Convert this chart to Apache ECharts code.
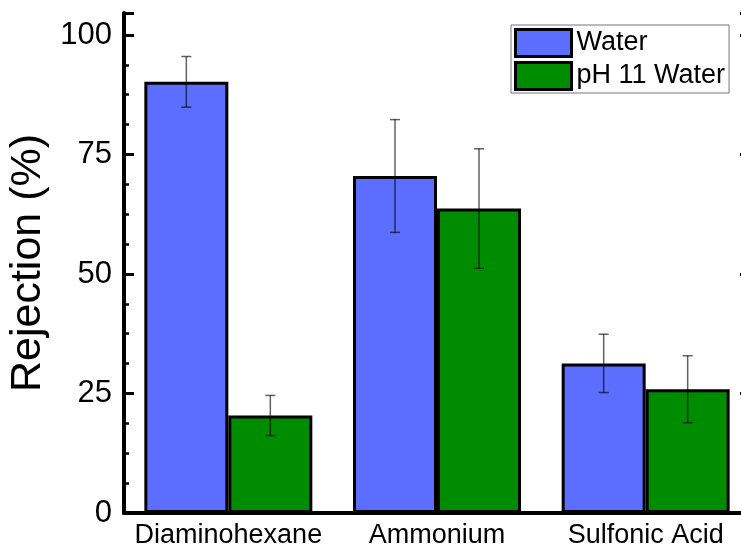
<!DOCTYPE html>
<html><head><meta charset="utf-8">
<script src="https://cdn.jsdelivr.net/npm/echarts@6/dist/echarts.min.js"></script>
<style>html,body{margin:0;padding:0;background:#fff}#c{width:741px;height:550px}</style>
</head><body><div id="c"></div>
<script>
const categories = ['Diaminohexane', 'Ammonium', 'Sulfonic Acid'];
const seriesNames = ['Water', 'pH 11 Water'];
const waterValues = [90.2, 70.5, 31.3];
const waterErrors = [5.3, 11.8, 6.1];
const ph11Values = [20.4, 63.7, 25.9];
const ph11Errors = [4.2, 12.5, 7.0];
const yTicks = [0, 25, 50, 75, 100];

const FONT = '"Liberation Sans", Arial, sans-serif';
const colors = ['#5B6EFF', '#008C00'];
const catGap = 0.195;

function errSeries(values, errs, idx) {
  return {
    type: 'custom', z: 10, silent: true,
    data: values.map((v, i) => [i, v - errs[i], v + errs[i]]),
    renderItem: function (params, api) {
      const band = api.size([1, 0])[0];
      const bw = band * (1 - catGap) / 2;
      const off = (idx === 0 ? -0.5 : 0.5) * bw;
      const lo = api.coord([api.value(0), api.value(1)]);
      const hi = api.coord([api.value(0), api.value(2)]);
      const x = lo[0] + off;
      const cw = 5;
      const st = { stroke: 'rgba(0,0,0,0.62)', lineWidth: 1.5 };
      return { type: 'group', children: [
        { type: 'line', shape: { x1: x, y1: hi[1], x2: x, y2: lo[1] }, style: st },
        { type: 'line', shape: { x1: x - cw, y1: hi[1], x2: x + cw, y2: hi[1] }, style: st },
        { type: 'line', shape: { x1: x - cw, y1: lo[1], x2: x + cw, y2: lo[1] }, style: st }
      ]};
    }
  };
}

const yMin = yTicks[0], yMax = 104.6, yInt = yTicks[1] - yTicks[0];

const chart = echarts.init(document.getElementById('c'), null, { renderer: 'canvas' });
chart.setOption({
  animation: false,
  textStyle: { fontFamily: FONT },
  grid: { left: 124, top: 13, width: 626, bottom: 37, containLabel: false, outerBoundsMode: 'none' },
  legend: {
    data: seriesNames,
    left: 511, top: 25,
    orient: 'vertical',
    icon: 'rect',
    itemWidth: 56, itemHeight: 27, itemGap: 3,
    padding: [3, 4, 2, 3],
    borderColor: '#777', borderWidth: 1,
    textStyle: { fontSize: 27, color: '#000', fontFamily: FONT, padding: [0, 0, 0, 0] },
    itemStyle: { borderColor: '#000', borderWidth: 3 }
  },
  xAxis: [{
    type: 'category', data: categories,
    axisLine: { lineStyle: { color: '#000', width: 4 } },
    axisTick: { show: false },
    axisLabel: { fontSize: 27, color: '#000', margin: 9, fontFamily: FONT, interval: 0, hideOverlap: false }
  }, {
    type: 'category', data: categories, position: 'top',
    axisLine: { lineStyle: { color: '#000', width: 3 } },
    axisTick: { show: false }, axisLabel: { show: false }
  }],
  yAxis: [{
    type: 'value', min: yMin, max: yMax, interval: yInt,
    name: 'Rejection (%)', nameLocation: 'middle', nameGap: 73,
    nameTextStyle: { fontSize: 43, color: '#000', fontFamily: FONT },
    axisLine: { show: true, lineStyle: { color: '#000', width: 4 } },
    axisTick: { show: true, inside: true, length: 10, lineStyle: { color: '#000', width: 3 } },
    minorTick: { show: true, splitNumber: 4, length: 5, lineStyle: { color: '#000', width: 2.5 } },
    axisLabel: { fontSize: 31, color: '#000', margin: 12, fontFamily: FONT,
      showMaxLabel: false, formatter: v => (yTicks.indexOf(v) >= 0 ? String(v) : '') },
    splitLine: { show: false }
  }, {
    type: 'value', min: yMin, max: yMax, interval: yInt, position: 'right',
    axisLine: { show: true, lineStyle: { color: '#000', width: 3 } },
    axisTick: { show: true, inside: true, length: 10, lineStyle: { color: '#000', width: 3 } },
    axisLabel: { show: false }, splitLine: { show: false }
  }],
  series: [
    { name: seriesNames[0], type: 'bar', data: waterValues, barGap: '0%', barCategoryGap: (catGap * 100) + '%',
      itemStyle: { color: colors[0], borderColor: '#000', borderWidth: 3 } },
    { name: seriesNames[1], type: 'bar', data: ph11Values, barGap: '0%', barCategoryGap: (catGap * 100) + '%',
      itemStyle: { color: colors[1], borderColor: '#000', borderWidth: 3 } },
    errSeries(waterValues, waterErrors, 0),
    errSeries(ph11Values, ph11Errors, 1)
  ]
});
</script></body></html>
